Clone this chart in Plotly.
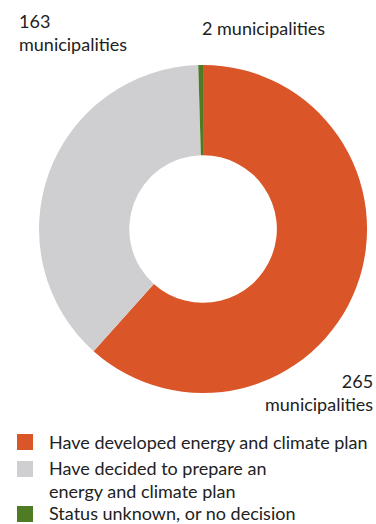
import plotly.graph_objects as go

# Municipal energy and climate plan status
categories = [
    "Have developed energy and climate plan",
    "Have decided to prepare an<br>energy and climate plan",
    "Status unknown, or no decision",
]
counts = [265, 163, 2]
colors = ["#DA5628", "#CFCFD1", "#4F7B25"]
unit = "municipalities"

W, H = 376, 524

fig = go.Figure(
    go.Pie(
        labels=categories,
        values=counts,
        hole=0.45,
        sort=False,
        direction="clockwise",
        rotation=0,
        marker=dict(colors=colors, line=dict(width=0)),
        textinfo="none",
        hoverinfo="label+value",
        showlegend=False,
        domain=dict(x=[0.101, 0.979], y=[0.25, 0.876]),
    )
)

font_family = "Lato, 'Open Sans', sans-serif"
text_color = "#222222"

# Value callouts around the ring
fig.add_annotation(x=0.045, y=0.985, xref="paper", yref="paper",
                   text=f"{counts[1]}<br>{unit}", showarrow=False,
                   xanchor="left", yanchor="top", align="left")
fig.add_annotation(x=0.532, y=0.947, xref="paper", yref="paper",
                   text=f"{counts[2]} {unit}", showarrow=False,
                   xanchor="left", yanchor="middle", align="left")
fig.add_annotation(x=0.998, y=0.298, xref="paper", yref="paper",
                   text=f"{counts[0]}<br>{unit}", showarrow=False,
                   xanchor="right", yanchor="top", align="right")

# Key below the ring: swatch + label per category (pixel offsets from top)
swatch_tops = [434, 461, 506]
label_centers = [442, 479, 513]
sw = 16
for cat, col, top, mid in zip(categories, colors, swatch_tops, label_centers):
    fig.add_shape(type="rect", xref="paper", yref="paper",
                  x0=17 / W, x1=(17 + sw) / W,
                  y0=1 - (top + sw) / H, y1=1 - top / H,
                  fillcolor=col, line=dict(width=0))
    fig.add_annotation(x=47 / W, y=1 - mid / H, xref="paper", yref="paper",
                       text=cat, showarrow=False,
                       xanchor="left", yanchor="middle", align="left")

fig.update_layout(
    width=W,
    height=H,
    margin=dict(l=0, r=0, t=0, b=0, autoexpand=False),
    paper_bgcolor="white",
    plot_bgcolor="white",
    font=dict(family=font_family, size=18, color=text_color),
    showlegend=False,
)

fig.write_html("out.html")
